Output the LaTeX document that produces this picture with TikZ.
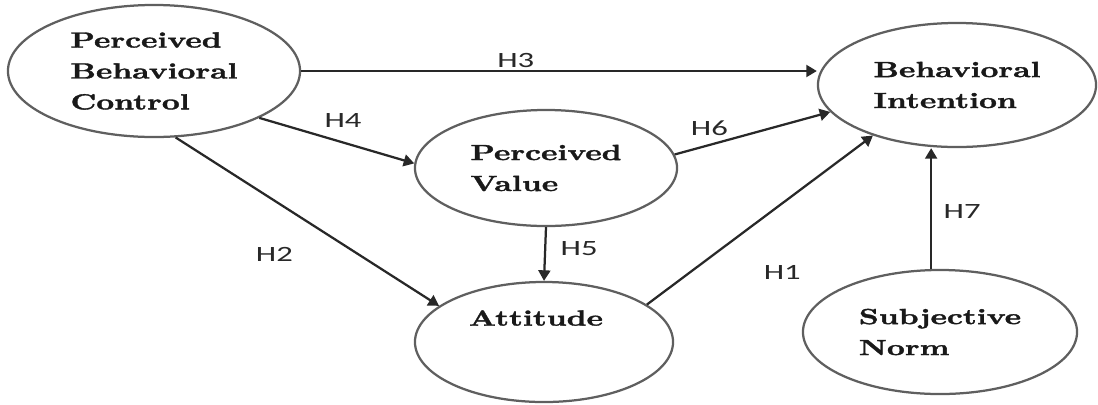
\documentclass[tikz,border=0pt]{standalone}
\usepackage{fontspec}
\usepackage{tikz}
\usepackage{xcolor}
\usetikzlibrary{arrows.meta, positioning, shapes.geometric}
\newfontfamily\constructfont[FakeStretch=1.42, FakeBold=1.6]{lmroman10-bold.otf}
\newfontfamily\hypfont[FakeStretch=1.5]{Carlito}
\definecolor{ringgray}{RGB}{95,95,95}
\definecolor{pathgray}{RGB}{40,40,40}

\begin{document}
\begin{tikzpicture}[
        x=0.025cm, y=-0.025cm,
        constructtext/.style={text=black!90, align=left, font=\constructfont\fontsize{15.6}{22}\selectfont},
        construct/.style={ellipse, draw=ringgray, line width=1.6pt, inner sep=0pt, constructtext},
        hyp/.style={draw=pathgray, line width=1.6pt, -{Triangle[length=7.5pt, width=8.5pt]}},
        hyplabel/.style={inner sep=0pt, text=pathgray, font=\hypfont\fontsize{15.5}{18}\selectfont},
    ]
    \useasboundingbox (0,0) rectangle (1098,404);

    % Constructs
    \node[construct, minimum width=7.3cm, minimum height=3.3cm] (pbc) at (154,71) {Perceived\\Behavioral\\Control};
    \node[construct, minimum width=6.55cm, minimum height=2.9cm] (pv) at (546,168) {Perceived\\Value};
    \node[construct, minimum width=6.95cm, minimum height=3.1cm] (bi) at (957,85) {Behavioral\\Intention};
    \node[construct, minimum width=6.45cm, minimum height=3cm] (att) at (544,342) {};
    \node[constructtext] (atttext) at (536,318) {Attitude};
    \node[construct, minimum width=6.85cm, minimum height=3.1cm] (sn) at (940,332) {Subjective\\Norm};

    % Hypotheses
    \draw[hyp] (pbc.east) -- (pbc.east -| bi.west) node[hyplabel, pos=0.42, shift={(-2,-11)}] (lblh3) {H3};
    \draw[hyp] (pbc.-24) -- (pv.178) node[hyplabel, pos=0.54, shift={(0,-22)}] (lblh4) {H4};
    \draw[hyp] (pbc.-72) -- (att.161) node[hyplabel, pos=0.47, shift={(-25,38)}] (lblh2) {H2};
    \draw[hyp] (pv.south) -- (att.north) node[hyplabel, pos=0.4, shift={(34,0)}] (lblh5) {H5};
    \draw[hyp] (pv.6) -- (bi.192) node[hyplabel, pos=0.23, shift={(-1,-16)}] (lblh6) {H6};
    \draw[hyp] (att.20) -- (bi.211) node[hyplabel, pos=0.44, shift={(36,42)}] (lblh1) {H1};
    \draw[hyp] (sn.98) -- (sn.98 |- bi.south) node[hyplabel, pos=0.475, shift={(31,0)}] (lblh7) {H7};
\end{tikzpicture}
\end{document}
